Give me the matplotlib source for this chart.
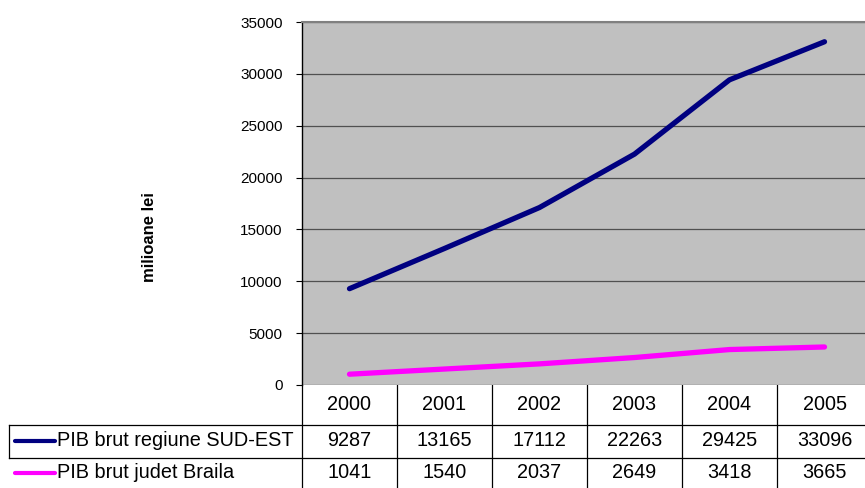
import matplotlib
matplotlib.use("Agg")
import matplotlib.pyplot as plt
from matplotlib.transforms import blended_transform_factory

plt.rcParams['font.family'] = ['Liberation Sans', 'DejaVu Sans']

years = ["2000", "2001", "2002", "2003", "2004", "2005"]
series_names = ["PIB brut regiune SUD-EST", "PIB brut judet Braila"]
sud_est = [9287, 13165, 17112, 22263, 29425, 33096]
braila = [1041, 1540, 2037, 2649, 3418, 3665]
series_values = [sud_est, braila]
series_colors = ["#000080", "#FF00FF"]

W, H = 865, 488
fig = plt.figure(figsize=(W / 100, H / 100), dpi=100)

# pixel-coordinate overlay for the data table
over = fig.add_axes([0, 0, 1, 1])
over.set_xlim(0, W)
over.set_ylim(H, 0)
over.axis("off")

left, right, top, bottom = 302, 872, 22, 385
ax = fig.add_axes([left / W, 1 - bottom / H, (right - left) / W, (bottom - top) / H])
ax.set_facecolor("#C0C0C0")
x = list(range(len(years)))
for vals, col in zip(series_values, series_colors):
    ax.plot(x, vals, color=col, lw=3.8, solid_capstyle="round", solid_joinstyle="round", zorder=3)

ax.set_xlim(-0.5, len(years) - 0.5)
ax.set_ylim(0, 35000)
ax.set_yticks(range(0, 35001, 5000))
ax.yaxis.grid(True, color="#505050", lw=0.9)
ax.set_axisbelow(True)
ax.set_xticks([])
ax.tick_params(axis="y", length=4, width=0.8, labelsize=11, pad=10)
for s in ["right", "bottom"]:
    ax.spines[s].set_visible(False)
ax.spines["top"].set_color("#808080")
ax.spines["top"].set_linewidth(1.5)
ax.spines["left"].set_linewidth(1.0)

fig.text(150 / W, 1 - 237 / H, "milioane lei", rotation=90, fontsize=12,
         fontweight="bold", ha="center", va="center")

# data table below the plot
tr = blended_transform_factory(ax.transData, over.transData)
lc = "black"
over.plot([9, W], [425, 425], color=lc, lw=0.9)
over.plot([9, W], [458, 458], color=lc, lw=0.9)
over.plot([9, 9], [425, 458], color=lc, lw=0.9)
for i in range(len(years) + 1):
    over.plot([i - 0.5, i - 0.5], [385, H], color=lc, lw=0.9, transform=tr)

fs = 14.3
for i, yr in enumerate(years):
    over.text(i, 405, yr, transform=tr, ha="center", va="center", fontsize=fs)
row_y = [441, 473]
for name, vals, col, ry in zip(series_names, series_values, series_colors, row_y):
    over.plot([15, 55], [ry, ry], color=col, lw=3, solid_capstyle="round")
    over.text(57, ry, name, ha="left", va="center", fontsize=fs)
    for i, v in enumerate(vals):
        over.text(i, ry, str(v), transform=tr, ha="center", va="center", fontsize=fs)

fig.savefig("out.png", dpi=100)
